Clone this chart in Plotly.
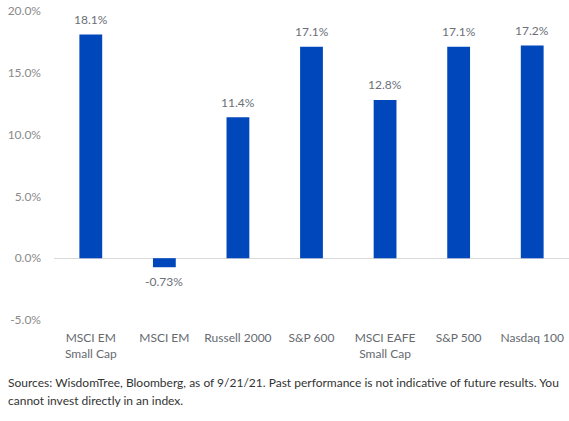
import plotly.graph_objects as go

categories = ["MSCI EM<br>Small Cap", "MSCI EM", "Russell 2000", "S&P 600", "MSCI EAFE<br>Small Cap", "S&P 500", "Nasdaq 100"]
values = [18.1, -0.73, 11.4, 17.1, 12.8, 17.1, 17.2]
labels = ["18.1%", "-0.73%", "11.4%", "17.1%", "12.8%", "17.1%", "17.2%"]
y_ticks = [-5, 0, 5, 10, 15, 20]
y_tick_text = ["-5.0%", "0.0%", "5.0%", "10.0%", "15.0%", "20.0%"]
footnote_lines = [
    "Sources: WisdomTree, Bloomberg, as of 9/21/21. Past performance is not indicative of future results. You",
    "cannot invest directly in an index.",
]

FONT = "Lato"
L, R, T, B = 54, 0, 11, 101
PH = 421 - T - B
PW = 569 - L - R

fig = go.Figure(go.Bar(
    x=categories, y=values,
    marker=dict(color="#0047BB", line=dict(width=0)),
    hoverinfo="skip",
))

annotations = []
for c, v, t in zip(categories, values, labels):
    annotations.append(dict(
        x=c, y=v, xref="x", yref="y", text=t, showarrow=False,
        yanchor="middle", yshift=15 if v >= 0 else -14,
        font=dict(family=FONT, size=12, color="#6b7079"),
    ))
for i, line in enumerate(footnote_lines):
    py = 382 + 19 * i
    annotations.append(dict(
        xref="paper", yref="paper", x=-(L - 6) / PW, y=(421 - B - py) / PH,
        xanchor="left", yanchor="middle", align="left", showarrow=False,
        text=line, font=dict(family=FONT, size=12, color="#333333"),
    ))

fig.update_layout(
    width=569, height=421,
    margin=dict(l=L, r=R, t=T, b=B),
    plot_bgcolor="white", paper_bgcolor="white",
    bargap=0.69, showlegend=False,
    font=dict(family=FONT, size=12, color="#5f6670"),
    yaxis=dict(range=[-5, 20], tickvals=y_ticks, ticktext=y_tick_text, showgrid=False,
               zeroline=True, zerolinecolor="#d9d9d9", zerolinewidth=1, ticks="", showline=False,
               ticklabelstandoff=12,
               tickfont=dict(family=FONT, size=12, color="#8a8a8a")),
    xaxis=dict(showgrid=False, ticks="", showline=False, ticklabelstandoff=9,
               tickfont=dict(family=FONT, size=12, color="#666a70")),
    annotations=annotations,
)
fig.write_html("out.html")
